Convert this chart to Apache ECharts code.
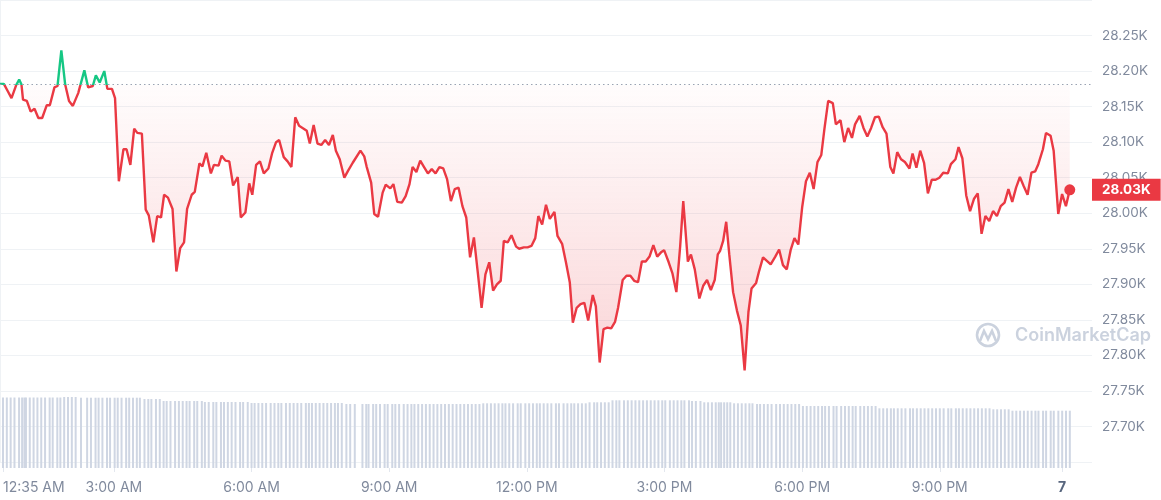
<!DOCTYPE html>
<html>
<head>
<meta charset="utf-8">
<script src="https://cdn.jsdelivr.net/npm/echarts@6/dist/echarts.min.js"></script>
<style>
  html, body { margin: 0; padding: 0; background: #ffffff; }
  #chart { width: 1161px; height: 500px; }
</style>
</head>
<body>
<div id="chart"></div>
<script>
// minutes since 12:35 AM, one point about every 5 minutes
var timeMin = [
  0,5,10,15,21,25,28,30,35,40,45,50,55,61,65,71,75,80,85,90,
  95,102,110,115,121,125,130,136,140,146,150,155,161,165,170,175,179,185,190,194,
  200,205,210,214,219,225,230,235,240,244,250,254,260,264,269,275,279,285,289,294,
  299,304,310,314,320,325,329,334,339,344,350,355,360,364,370,375,380,385,390,396,
  400,404,409,414,419,424,429,434,438,443,449,454,460,
  470,475,478,484,488,493,499,503,509,513,518,524,529,534,538,543,548,553,558,563,
  568,573,578,583,588,593,598,603,608,613,618,623,628,633,638,643,648,653,657,662,
  667,673,677,683,688,693,698,702,707,712,717,723,727,733,738,743,747,752,757,762,
  767,773,777,782,787,792,797,802,806,812,817,822,827,832,837,842,847,852,857,862,
  866,872,877,882,887,891,897,901,906,912,917,922,927,932,936,
  939,943,947,951,956,961,966,971,976,980,986,990,995,1000,1005,1011,1016,1021,1026,1031,
  1036,1041,1046,1051,1056,1061,1066,1071,1075,1080,1086,1090,1096,1101,1106,1111,1115,1121,1126,1131,
  1136,1141,1146,1151,1156,1161,1165,1170,1175,1180,1186,1190,1195,1200,1205,1210,1215,1220,1225,1230,
  1236,1240,1246,1250,1255,1260,1265,1270,1275,1280,1285,1290,1295,1300,1305,1310,1315,1320,1325,1330,
  1335,1340,1345,1350,1354,1360,1364,1370,1374,1380,1385,1390,1395
];

// BTC price, USD
var price = [
  28182,28182,28172,28162,28180,28188,28181,28160,28158,28143,
  28147,28134,28134,28152,28152,28177,28179,28229,28181,28158,
  28151,28169,28201,28177,28179,28194,28184,28200,28175,28175,
  28162,28045,28090,28090,28068,28119,28113,28112,28005,27997,
  27959,27996,27994,28026,28022,28006,27918,27951,27959,28006,
  28026,28030,28070,28066,28085,28056,28068,28067,28081,28074,
  28073,28039,28051,27994,28001,28042,28026,28068,28073,28056,
  28063,28085,28100,28103,28079,28073,28065,28135,28123,28119,
  28116,28098,28124,28098,28096,28103,28096,28110,28088,28076,
  28050,28060,28071,
  28088,28080,28066,28043,27999,27995,28029,28040,28035,28041,
  28016,28015,28024,28041,28065,28058,28074,28065,28056,28062,
  28056,28065,28063,28048,28017,28034,28036,28010,27994,27938,
  27966,27917,27867,27914,27931,27891,27900,27905,27961,27959,
  27969,27953,27950,27952,27952,27954,27965,27996,27984,28012,
  27992,28002,27968,27957,27931,27903,27846,27867,27872,27874,
  27849,27885,27869,27790,27837,27839,27838,27847,27867,27906,
  27912,27912,27905,27903,27932,27932,27939,27955,27939,27945,
  27948,27931,27915,27889,27954,28017,27932,27942,27921,27880,
  27898,27906,27892,27906,27942,
  27947,27961,27988,27942,27889,27863,27842,27779,27861,27894,
  27902,27919,27938,27933,27928,27939,27949,27927,27921,27948,
  27965,27956,28008,28045,28057,28034,28072,28082,28118,28158,
  28155,28125,28131,28100,28120,28106,28125,28137,28120,28108,
  28120,28135,28136,28121,28112,28065,28056,28086,28076,28072,
  28063,28084,28064,28088,28071,28028,28047,28047,28050,28057,
  28056,28069,28076,28093,28077,28025,28003,28020,28028,27971,
  27996,27989,28003,27996,28010,28015,28034,28016,28036,28051,
  28038,28026,28057,28059,28069,28090,28113,28109,28088,27999,
  28027,28010,28033
];

// volume bars (relative height)
var volume = [
  70.5,70.5,70.5,70.5,70.5,70.5,70.5,70.5,70.5,70.5,70.5,70.5,70.5,70.5,70.5,70.5,70.5,
  71,71,71,71,
  70.3,70.3,70.3,70.3,70.3,70.3,70.3,70.3,70.3,70.3,70.3,70.3,70.3,70.3,70.3,70.3,
  69,69,69,69,69,
  67,67,67,67,67,67,67,67,67,67,67,
  66,66,66,66,66,66,66,66,66,66,66,66,
  65,65,65,65,65,65,65,65,65,65,65,65,65,65,65,65,65,65,65,65,65,65,65,65,65,
  64,64,64,64,64,64,64,64,64,64,64,64,64,64,64,64,64,64,64,64,64,64,64,64,64,64,64,64,64,64,64,64,64,64,64,
  64.7,64.7,64.7,64.7,64.7,64.7,64.7,64.7,64.7,64.7,64.7,64.7,64.7,64.7,64.7,64.7,64.7,64.7,64.7,64.7,64.7,64.7,64.7,64.7,64.7,64.7,64.7,64.7,
  65.7,65.7,65.7,65.7,65.7,65.7,
  67.7,67.7,67.7,67.7,67.7,67.7,67.7,67.7,67.7,67.7,67.7,67.7,67.7,67.7,67.7,67.7,67.7,67.7,67.7,67.7,67.7,
  67,67,67,
  65.7,65.7,65.7,65.7,65.7,65.7,65.7,65.7,65.7,
  64.7,64.7,64.7,64.7,64.7,64.7,
  64,64,64,64,64,64,64,64,64,64,64,64,
  62,62,62,62,62,62,62,62,62,62,62,62,62,62,62,62,62,62,62,62,
  59.7,59.7,59.7,59.7,59.7,59.7,59.7,59.7,59.7,59.7,59.7,59.7,59.7,59.7,59.7,
  59.7,59.7,59.7,59.7,59.7,59.7,59.7,59.7,59.7,59.7,59.7,59.7,59.7,59.7,59.7,
  58.7,58.7,58.7,58.7,58.7,
  57.3,57.3,57.3,57.3,57.3,57.3,57.3,57.3,57.3,57.3,57.3,57.3,57.3,57.3,57.3,57.3
];

var baseline = 28181;
var tickMin = [0, 145, 325, 505, 685, 865, 1045, 1225, 1385];
var tickLabels = ['12:35 AM', '3:00 AM', '6:00 AM', '9:00 AM', '12:00 PM', '3:00 PM', '6:00 PM', '9:00 PM', '7'];

var RED = '#ea3943';
var GREEN = '#16c784';
var GRAY = '#808a9d';

var n = Math.min(timeMin.length, price.length);
var lineData = [];
var volData = [];
for (var i = 0; i < n; i++) {
  lineData.push([timeMin[i], price[i]]);
  volData.push([timeMin[i], volume[i]]);
}
var last = lineData[n - 1];

var chart = echarts.init(document.getElementById('chart'));
var option = {
  animation: false,
  textStyle: { fontFamily: 'Inter, sans-serif' },
  grid: [
    { left: 0, right: 69, top: -1, bottom: 38 },
    { left: 0, right: 69, bottom: 32, height: 100 }
  ],
  xAxis: [
    { type: 'value', gridIndex: 0, min: 0, max: 1424, show: false },
    {
      type: 'value', gridIndex: 1, min: 0, max: 1424,
      axisLine: { show: false },
      splitLine: { show: false },
      axisTick: { show: true, length: 4, lineStyle: { color: '#e3e7ee' }, customValues: tickMin },
      axisLabel: {
        customValues: tickMin,
        alignMinLabel: 'left',
        margin: 13,
        color: GRAY,
        fontSize: 14,
        formatter: function (v) {
          var k = tickMin.indexOf(v);
          var t = k >= 0 ? tickLabels[k] : '';
          return t === '7' ? '{b|7}' : t;
        },
        rich: { b: { fontWeight: 'bold', color: '#58667e', fontSize: 14 } }
      }
    }
  ],
  yAxis: [
    {
      type: 'value', gridIndex: 0, position: 'right',
      min: 27650, max: 28300, interval: 50,
      axisLine: { show: true, lineStyle: { color: '#eff2f5' } },
      axisTick: { show: false },
      splitLine: { lineStyle: { color: '#eff2f5' } },
      axisLabel: {
        showMinLabel: false, showMaxLabel: false,
        margin: 10, color: GRAY, fontSize: 13.5,
        formatter: function (v) { return (v / 1000).toFixed(2) + 'K'; }
      }
    },
    { type: 'value', gridIndex: 1, min: 0, max: 100, show: false }
  ],
  graphic: [
    { type: 'circle', shape: { cx: 988, cy: 335, r: 11 }, style: { fill: 'none', stroke: '#cbd2de', lineWidth: 2.6 } },
    { type: 'polyline', shape: { points: [[980, 341], [984, 331], [988, 339], [992, 331], [996, 341]] },
      style: { fill: 'none', stroke: '#cbd2de', lineWidth: 2.6 } },
    { type: 'text', x: 1015, y: 336,
      style: { text: 'CoinMarketCap', font: '600 18px Inter, sans-serif', fill: '#cbd2de', verticalAlign: 'middle' } }
  ],
  series: [
    {
      name: 'Price', type: 'line', xAxisIndex: 0, yAxisIndex: 0,
      data: lineData, symbol: 'none', z: 4,
      lineStyle: { width: 2.4, color: RED },
      markLine: {
        silent: true, symbol: ['none', 'none'],
        data: [
          { yAxis: baseline, lineStyle: { type: [1.5, 3], color: '#9aa3b3', width: 1 }, label: { show: false } },
          {
            yAxis: last[1], lineStyle: { width: 0, color: 'rgba(0,0,0,0)' },
            label: {
              show: true, position: 'end', distance: 0,
              formatter: (last[1] / 1000).toFixed(2) + 'K',
              backgroundColor: RED, color: '#ffffff', fontWeight: 'bold', fontSize: 13.5,
              padding: [4, 10, 4, 10]
            }
          }
        ]
      }
    },
    {
      name: 'Area', type: 'line', xAxisIndex: 0, yAxisIndex: 0,
      data: lineData, symbol: 'none', z: 1,
      lineStyle: { width: 0 },
      areaStyle: { origin: baseline, color: 'rgba(234,57,67,0.1)' }
    },
    {
      name: 'Last', type: 'scatter', xAxisIndex: 0, yAxisIndex: 0,
      data: [last], symbolSize: 11, z: 5,
      itemStyle: { color: RED, opacity: 1 }
    },
    {
      name: 'Volume', type: 'bar', xAxisIndex: 1, yAxisIndex: 1,
      data: volData, barWidth: 2,
      itemStyle: { color: '#cfd6e3' }
    }
  ]
};
chart.setOption(option);

// green above the previous close, red below: split colours at the baseline's pixel row
var yb = chart.convertToPixel({ yAxisIndex: 0 }, baseline);
var yLow = chart.convertToPixel({ yAxisIndex: 0 }, 27780);
var H = chart.getHeight();
chart.setOption({
  series: [
    {
      name: 'Price',
      lineStyle: {
        color: {
          type: 'linear', global: true, x: 0, y: 0, x2: 0, y2: H,
          colorStops: [
            { offset: 0, color: GREEN },
            { offset: yb / H, color: GREEN },
            { offset: yb / H, color: RED },
            { offset: 1, color: RED }
          ]
        }
      }
    },
    {
      name: 'Area',
      areaStyle: {
        color: {
          type: 'linear', global: true, x: 0, y: 40, x2: 0, y2: yLow,
          colorStops: [
            { offset: 0, color: 'rgba(22,199,132,0.10)' },
            { offset: (yb - 40) / (yLow - 40), color: 'rgba(22,199,132,0.02)' },
            { offset: (yb - 40) / (yLow - 40), color: 'rgba(234,57,67,0.02)' },
            { offset: 1, color: 'rgba(234,57,67,0.30)' }
          ]
        }
      }
    }
  ]
});
</script>
</body>
</html>
